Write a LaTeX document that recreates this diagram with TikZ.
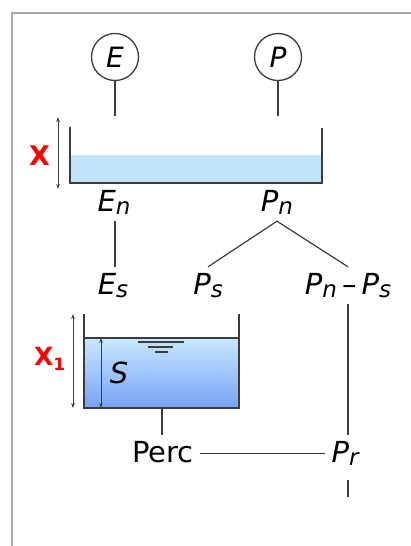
\documentclass[tikz,border=0pt]{standalone}
\usepackage{fontspec}
\setmainfont{DejaVu Sans}
\usetikzlibrary{arrows.meta}
\definecolor{framegray}{RGB}{170,170,170}
\definecolor{linegray}{RGB}{60,60,60}
\definecolor{waterlight}{RGB}{194,228,250}
\definecolor{watertop}{RGB}{200,232,255}
\definecolor{waterdeep}{RGB}{118,162,246}
\newcommand{\vsub}[2]{\textit{#1\raisebox{-3pt}{\fontsize{23pt}{23pt}\selectfont #2}}}

\begin{document}
\begin{tikzpicture}[x=1pt, y=-1pt,
    var/.style={inner xsep=6pt, inner ysep=5pt, text height=22pt, text depth=5pt, anchor=base, font=\fontsize{29pt}{30pt}\selectfont},
    src/.style={circle, draw=linegray, line width=1.3pt, minimum size=47pt, inner sep=0pt, font=\fontsize{28pt}{29pt}\selectfont},
    link/.style={draw=linegray, line width=1.2pt},
    wall/.style={draw=linegray, line width=1.6pt},
    dim/.style={{Stealth[length=5pt,width=3.5pt]}-{Stealth[length=5pt,width=3.5pt]}, line width=0.8pt, linegray},
    tag/.style={text=red, inner sep=0pt, anchor=base west, font=\bfseries},
]
\useasboundingbox (0,0) rectangle (411,546);
\draw[framegray, line width=2pt] (411,13) -- (12,13) -- (12,546);

% inputs
\node[src] (esrc) at (115,57) {\textit{E}};
\node[src] (psrc) at (278,57) {\textit{P}};
\coordinate (ein) at (115,116);
\coordinate (pin) at (278,116);

% interception store
\fill[waterlight] (70,155) rectangle (322,183);
\draw[wall] (70,127) -- (70,183) -- (322,183) -- (322,128);
\draw[dim] (58,117) -- (58,189);
\node[tag, font=\fontsize{27pt}{28pt}\selectfont\bfseries] (xtop) at (29,165) {X};

\node[var] (en) at (114,211) {\vsub{E}{n}};
\node[var] (pn) at (277,211) {\vsub{P}{n}};
\node[var] (es) at (113,294) {\vsub{E}{s}};
\node[var] (ps) at (208,294) {\vsub{P}{s}};
\node[var] (pnps) at (348,294) {\vsub{P}{n}\kern5pt–\kern5pt\vsub{P}{s}};
\coordinate (eline) at (115,0);

% production store
\shade[top color=watertop, bottom color=waterdeep] (84,338) rectangle (239,408);
\draw[wall] (84,314) -- (84,408) -- (239,408) -- (239,314);
\draw[wall] (84,338) -- (239,338);
\draw[link] (138,342) -- (184,342);
\draw[link] (148,347) -- (173,347);
\draw[link] (155,352) -- (168,352);
\draw[dim] (101,338) -- (101,408);
\draw[dim] (73,314) -- (73,408);
\node[var, anchor=base] (stor) at (119,383) {\textit{S}};
\node[tag, font=\fontsize{25pt}{26pt}\selectfont\bfseries] (xone) at (34,365) {X\raisebox{-5pt}{\fontsize{17pt}{17pt}\selectfont 1}};
\coordinate (sbot) at (162,408);

\node[var] (perc) at (163,462) {Perc};
\node[var] (pr) at (345,462) {\vsub{P}{r}};
\coordinate (rout) at (348,497);

\draw[link] (esrc) -- (ein);
\draw[link] (psrc) -- (pin);
\draw[link] (en.south -| eline) -- (es.north -| eline);
\draw[link] (ps.north) -- (pn.south) -- (pnps.north);
\draw[link] (pnps.south) -- (pnps.south |- pr.north);
\draw[link] (sbot) -- (sbot |- perc.north);
\draw[link] (perc.east) -- (perc.east -| pr.west);
\draw[link, shorten <=8pt] (pr.south -| rout) -- (rout);
\end{tikzpicture}
\end{document}
